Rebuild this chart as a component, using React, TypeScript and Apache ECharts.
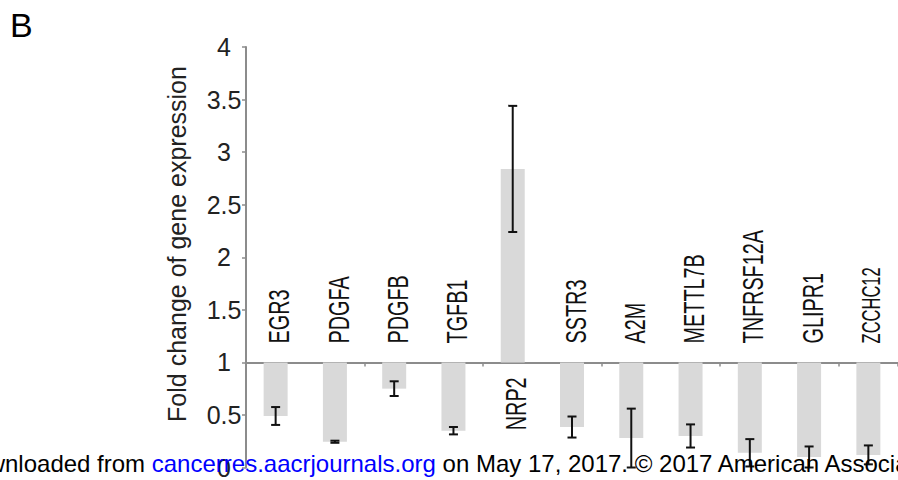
import React, { useEffect, useRef } from "react";
import * as echarts from "echarts";

const categories = ["EGR3", "PDGFA", "PDGFB", "TGFB1", "NRP2", "SSTR3", "A2M", "METTL7B", "TNFRSF12A", "GLIPR1", "ZCCHC12"];
const foldChange = [0.49, 0.245, 0.75, 0.35, 2.84, 0.385, 0.28, 0.3, 0.14, 0.1, 0.12];
const errors = [0.085, 0.01, 0.07, 0.035, 0.6, 0.1, 0.28, 0.11, 0.13, 0.1, 0.09];
const yTicks = [0, 0.5, 1, 1.5, 2, 2.5, 3, 3.5, 4];
const baseline = 1;
const labelSizes = [30, 30, 30, 30, 30, 30, 30, 30, 30, 30, 25];

const FONT = "'Liberation Sans', Arial, Helvetica, sans-serif";

export default function App() {
  const ref = useRef<HTMLDivElement>(null);
  useEffect(() => {
    document.body.style.margin = "0";
    const chart = echarts.init(ref.current!, null, { renderer: "svg" });
    const option: any = {
      animation: false,
      backgroundColor: "#ffffff",
      grid: { left: 246, right: -6, top: 47, bottom: 7 },
      xAxis: {
        type: "category",
        data: categories,
        axisLine: { onZero: true, lineStyle: { color: "#8c8c8c", width: 2 } },
        axisTick: { show: true, length: 4, lineStyle: { color: "#8c8c8c", width: 1.5 } },
        axisLabel: { show: false },
      },
      yAxis: {
        type: "value",
        min: yTicks[0] - baseline,
        max: yTicks[yTicks.length - 1] - baseline,
        interval: 0.5,
        splitLine: { show: false },
        axisLine: { show: true, lineStyle: { color: "#8c8c8c", width: 2 } },
        axisTick: { show: true, length: 4, lineStyle: { color: "#8c8c8c", width: 1.5 } },
        axisLabel: {
          fontSize: 25,
          fontFamily: FONT,
          color: "#222",
          align: "center",
          margin: 22,
          formatter: (v: number) => String(Math.round((v + baseline) * 10) / 10),
        },
      },
      series: [
        {
          type: "bar",
          data: foldChange.map((v) => v - baseline),
          barWidth: 24,
          itemStyle: { color: "#d9d9d9" },
          z: 2,
        },
        {
          type: "custom",
          z: 3,
          data: categories.map((c, i) => [i, foldChange[i] - baseline, errors[i]]),
          encode: { x: 0, y: 1 },
          renderItem: (params: any, api: any) => {
            const x = api.value(0);
            const v = api.value(1);
            const e = api.value(2);
            const top = api.coord([x, v + e]);
            const bot = api.coord([x, v - e]);
            const hw = 4.5;
            const st = { stroke: "#111", lineWidth: 2 };
            return {
              type: "group",
              children: [
                { type: "line", shape: { x1: top[0], y1: top[1], x2: bot[0], y2: bot[1] }, style: st },
                { type: "line", shape: { x1: top[0] - hw, y1: top[1], x2: top[0] + hw, y2: top[1] }, style: st },
                { type: "line", shape: { x1: bot[0] - hw, y1: bot[1], x2: bot[0] + hw, y2: bot[1] }, style: st },
              ],
            };
          },
        },
        {
          type: "custom",
          z: 4,
          data: categories.map((c, i) => [i, 0]),
          encode: { x: 0, y: 1 },
          renderItem: (params: any, api: any) => {
            const i = params.dataIndex;
            const p = api.coord([api.value(0), 0]);
            const up = foldChange[i] < baseline;
            return {
              type: "text",
              x: p[0] + 3,
              y: up ? p[1] - 19 : p[1] + 15,
              rotation: Math.PI / 2,
              scaleX: 0.66,
              scaleY: 1,
              style: {
                text: categories[i],
                fontSize: labelSizes[i],
                fontFamily: FONT,
                fill: "#111",
                align: up ? "left" : "right",
                verticalAlign: "middle",
              },
            };
          },
        },
      ],
      graphic: [
        {
          type: "text",
          left: 10,
          top: 8,
          style: { text: "B", fontSize: 34, fontFamily: FONT, fill: "#000" },
        },
        {
          type: "text",
          x: 177,
          y: 244,
          rotation: Math.PI / 2,
          style: {
            text: "Fold change of gene expression",
            fontSize: 25,
            fontFamily: FONT,
            fill: "#222",
            align: "center",
            verticalAlign: "middle",
          },
        },
        {
          type: "text",
          x: -43,
          y: 463,
          z: 100,
          style: {
            text: "Downloaded from {a|cancerres.aacrjournals.org} on May 17, 2017. © 2017 American Association for Cancer Research.",
            fontSize: 24,
            fontFamily: FONT,
            fill: "#000",
            verticalAlign: "middle",
            rich: { a: { fill: "#0000ff", fontSize: 24, fontFamily: FONT } },
          },
        },
      ],
    };
    chart.setOption(option);
    return () => chart.dispose();
  }, []);
  return <div ref={ref} style={{ position: "fixed", left: 0, top: 0, width: 898, height: 480 }} />;
}
